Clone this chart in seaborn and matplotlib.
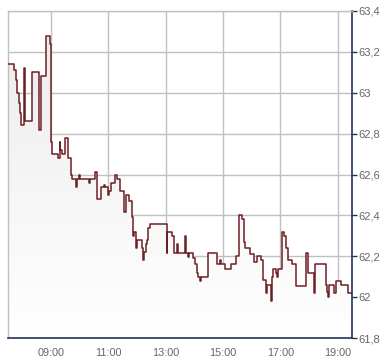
import numpy as np
import pandas as pd
import matplotlib
matplotlib.use("Agg")
import matplotlib.pyplot as plt
import seaborn as sns
from matplotlib.colors import LinearSegmentedColormap
from matplotlib.patches import PathPatch

# ---- data (step changes: time, price) ----
times = ["07:30", "07:43", "07:47", "07:49", "07:53", "07:56", "07:57", "08:04", "08:06", "08:20",
         "08:34", "08:35", "08:40", "08:50", "08:57", "09:01", "09:03", "09:15", "09:18", "09:19",
         "09:23", "09:30", "09:36", "09:41", "09:43", "09:52", "09:54", "09:59", "10:01", "10:20",
         "10:21", "10:33", "10:37", "10:45", "10:50", "10:52", "10:59", "11:01", "11:06", "11:13",
         "11:18", "11:24", "11:32", "11:37", "11:44", "11:49", "11:51", "11:52", "11:54", "11:57",
         "12:01", "12:10", "12:12", "12:14", "12:18", "12:20", "12:22", "12:27", "13:02", "13:03",
         "13:14", "13:17", "13:24", "13:26", "13:40", "13:42", "13:46", "13:48", "13:58", "14:01",
         "14:05", "14:08", "14:12", "14:14", "14:29", "14:47", "14:53", "14:55", "15:05", "15:17",
         "15:27", "15:34", "15:39", "15:44", "15:47", "15:56", "16:05", "16:12", "16:19", "16:24",
         "16:29", "16:30", "16:32", "16:41", "16:42", "16:44", "16:50", "16:54", "16:56", "17:03",
         "17:08", "17:12", "17:15", "17:24", "17:32", "17:53", "17:58", "18:11", "18:12", "18:35",
         "18:37", "18:40", "18:41", "18:42", "18:53", "18:56", "19:07", "19:21", "19:30"]
prices = [63.14, 63.11, 63.06, 63.00, 62.95, 62.90, 62.84, 63.12, 62.86, 63.10,
          63.08, 62.82, 63.08, 63.28, 63.24, 62.76, 62.70, 62.68, 62.76, 62.72,
          62.70, 62.78, 62.68, 62.60, 62.58, 62.54, 62.58, 62.60, 62.58, 62.56,
          62.58, 62.61, 62.48, 62.54, 62.55, 62.54, 62.50, 62.52, 62.56, 62.60,
          62.58, 62.52, 62.415, 62.50, 62.47, 62.39, 62.32, 62.30, 62.32, 62.24,
          62.28, 62.24, 62.18, 62.22, 62.26, 62.28, 62.34, 62.36, 62.215, 62.32,
          62.30, 62.215, 62.26, 62.215, 62.30, 62.215, 62.195, 62.215, 62.19, 62.16,
          62.12, 62.10, 62.08, 62.10, 62.215, 62.16, 62.18, 62.16, 62.14, 62.16,
          62.20, 62.40, 62.38, 62.27, 62.24, 62.21, 62.17, 62.20, 62.18, 62.085,
          62.06, 62.02, 62.06, 61.98, 62.10, 62.14, 62.12, 62.10, 62.14, 62.32,
          62.30, 62.24, 62.18, 62.16, 62.055, 62.215, 62.12, 62.02, 62.16, 62.06,
          62.025, 62.00, 62.02, 62.06, 62.02, 62.08, 62.06, 62.02, 62.02]

x_ticks = ["09:00", "11:00", "13:00", "15:00", "17:00", "19:00"]
y_ticks = [61.8, 62.0, 62.2, 62.4, 62.6, 62.8, 63.0, 63.2, 63.4]
x_range = ["07:30", "19:30"]


def to_min(s):
    h, m = s.split(":")
    return int(h) * 60 + int(m)


df = pd.DataFrame({"t": [to_min(s) for s in times], "price": prices})

sns.set_style("white")
plt.rcParams['font.family'] = ['Liberation Sans', 'DejaVu Sans']

fig = plt.figure(figsize=(3.90, 3.64), dpi=100)
ax = fig.add_axes([8 / 390, 26 / 364, 344 / 390, 327 / 364])

xmin, xmax = to_min(x_range[0]), to_min(x_range[1])
ymin, ymax = y_ticks[0], y_ticks[-1]

# gradient fill under the step line
poly = ax.fill_between(df["t"], df["price"], ymin, step="post",
                       facecolor="none", edgecolor="none")
clip = PathPatch(poly.get_paths()[0], transform=ax.transData,
                 facecolor="none", edgecolor="none")
ax.add_patch(clip)
cmap = LinearSegmentedColormap.from_list("g", ["#ffffff", "#ebebeb"])
grad = np.linspace(0, 1, 256).reshape(-1, 1)
im = ax.imshow(grad, cmap=cmap, aspect="auto", origin="lower",
               extent=[xmin, xmax, ymin, ymax], zorder=1)
im.set_clip_path(clip)

sns.lineplot(data=df, x="t", y="price", drawstyle="steps-post",
             color="#6e1f25", linewidth=1.1, ax=ax, zorder=3, sort=False,
             estimator=None)

ax.set_xlim(xmin, xmax)
ax.set_ylim(ymin, ymax)

ax.set_xticks([to_min(s) for s in x_ticks])
ax.set_xticklabels(x_ticks)
ax.set_yticks(y_ticks)
ax.set_yticklabels([f"{v:g}".replace(".", ",") for v in y_ticks])

ax.yaxis.tick_right()
ax.grid(True, color="#c0c0c0", linewidth=1.0, zorder=0)
ax.set_axisbelow(True)

ax.tick_params(axis="x", length=0, pad=7, labelsize=7.8, labelcolor="#666666")
ax.tick_params(axis="y", right=True, left=False, length=3.5, width=1, color="#1f3558",
               pad=1, labelsize=8, labelcolor="#666666", direction="out")

ax.set_xlabel("")
ax.set_ylabel("")

for side in ["left", "top"]:
    ax.spines[side].set_color("#c0c0c0")
    ax.spines[side].set_linewidth(1.0)
for side in ["right", "bottom"]:
    ax.spines[side].set_color("#1f3558")
    ax.spines[side].set_linewidth(1.2)
    ax.spines[side].set_visible(True)

fig.savefig("out.png", dpi=100, facecolor="white")
